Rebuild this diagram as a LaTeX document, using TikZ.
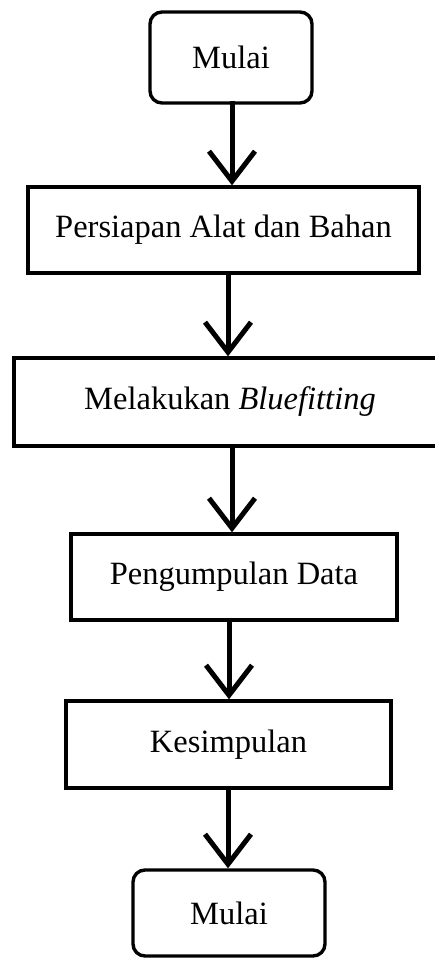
\documentclass[tikz,border=0pt]{standalone}
\usepackage{fontspec}
\setmainfont{Liberation Serif}
\usetikzlibrary{arrows.meta}
\begin{document}
\begin{tikzpicture}[x=1pt,y=-1pt,
  box/.style={draw,line width=3.4pt,rectangle,inner sep=0pt,font=\fontsize{32.5}{38}\selectfont},
  term/.style={box,rounded corners=12pt},
  conn/.style={line width=5pt,shorten <=-4pt,-{Straight Barb[length=30pt,width=46pt,line width=5pt]}}]
\useasboundingbox (0,0) rectangle (435,958);
\node[term,minimum width=162pt,minimum height=91pt] (m1) at (231,57.5) {Mulai};
\node[box,minimum width=391pt,minimum height=86pt] (p) at (223.5,230) {Persiapan Alat dan Bahan};
\node[box,minimum width=432pt,minimum height=88pt] (b) at (230,402) {Melakukan \textit{Bluefitting}};
\node[box,minimum width=326pt,minimum height=86pt] (d) at (234,577) {Pengumpulan Data};
\node[box,minimum width=325pt,minimum height=87pt] (k) at (228.5,744.5) {Kesimpulan};
\node[term,minimum width=192pt,minimum height=86pt] (m2) at (229,913) {Mulai};
\coordinate (x1) at (232,0);
\coordinate (x2) at (228,0);
\coordinate (x3) at (232,0);
\coordinate (x4) at (229,0);
\coordinate (x5) at (228,0);
\draw[conn] (m1.south -| x1) -- (p.north -| x1);
\draw[conn] (p.south -| x2) -- (b.north -| x2);
\draw[conn] (b.south -| x3) -- (d.north -| x3);
\draw[conn] (d.south -| x4) -- (k.north -| x4);
\draw[conn] (k.south -| x5) -- (m2.north -| x5);
\end{tikzpicture}
\end{document}
